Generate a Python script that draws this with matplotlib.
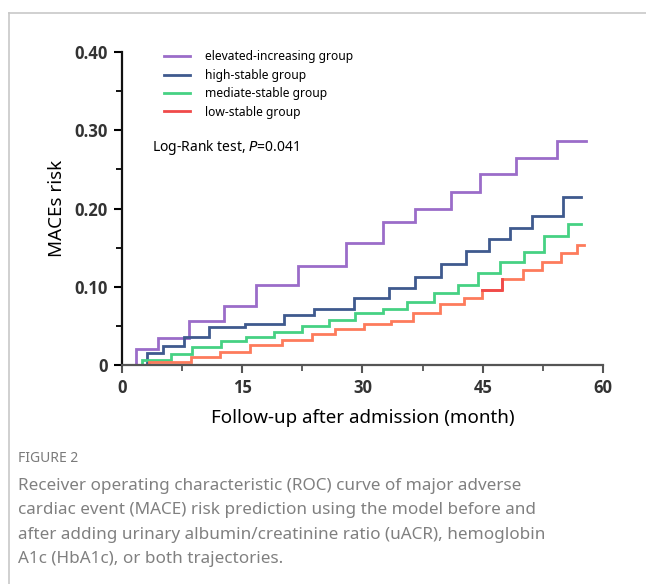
import matplotlib.pyplot as plt
from matplotlib.lines import Line2D

# step times (month) and cumulative risk after each step, last time = end of curve
elev_t = [0, 1.75, 4.5, 8.3, 12.7, 16.7, 22.0, 27.9, 32.5, 36.6, 41.0, 44.7, 49.2, 54.3, 57.9]
elev_v = [0, 0.020, 0.034, 0.056, 0.075, 0.102, 0.127, 0.156, 0.183, 0.200, 0.221, 0.244, 0.265, 0.286]

high_t = [0, 3.1, 5.15, 7.7, 10.9, 15.3, 20.2, 23.9, 28.9, 33.3, 36.6, 39.8, 42.9, 45.8, 48.4, 51.2, 55.0, 57.3]
high_v = [0, 0.015, 0.024, 0.036, 0.048, 0.053, 0.064, 0.072, 0.085, 0.099, 0.113, 0.129, 0.146, 0.161,
          0.175, 0.191, 0.215]

med_t = [0, 2.5, 6.1, 8.7, 12.4, 15.5, 19.0, 22.5, 25.8, 29.1, 32.5, 35.6, 38.9, 41.9, 44.4, 47.2, 50.2,
         52.7, 55.6, 57.3]
med_v = [0, 0.007, 0.014, 0.023, 0.031, 0.036, 0.042, 0.050, 0.058, 0.067, 0.071, 0.080, 0.092, 0.102,
         0.118, 0.131, 0.145, 0.165, 0.180]

low_t = [0, 3.4, 8.6, 12.2, 16.0, 20.0, 23.7, 26.6, 30.2, 33.5, 36.3, 39.7, 42.6, 44.9, 47.4, 50.0, 52.4,
         54.7, 56.7, 57.6]
low_v = [0, 0.004, 0.010, 0.017, 0.025, 0.032, 0.039, 0.046, 0.052, 0.056, 0.066, 0.078, 0.085, 0.096,
         0.110, 0.121, 0.131, 0.143, 0.153]

groups = ["elevated-increasing group", "high-stable group", "mediate-stable group", "low-stable group"]
colors = ["#9b6cc9", "#3f5a8e", "#46d183", "#fd7b5c"]
legend_colors = ["#9b6cc9", "#3f5a8e", "#46d183", "#f04a4a"]

x_ticks = [0, 15, 30, 45, 60]
x_labels = ["0", "15", "30", "45", "60"]
y_ticks = [0, 0.10, 0.20, 0.30, 0.40]
y_labels = ["0", "0.10", "0.20", "0.30", "0.40"]

caption = ("Receiver operating characteristic (ROC) curve of major adverse\n"
           "cardiac event (MACE) risk prediction using the model before and\n"
           "after adding urinary albumin/creatinine ratio (uACR), hemoglobin\n"
           "A1c (HbA1c), or both trajectories.")

plt.rcParams['font.family'] = ['Noto Sans', 'DejaVu Sans']

fig = plt.figure(figsize=(6.46, 5.84), dpi=100)
ax = fig.add_axes([122 / 646, 1 - 365 / 584, 481 / 646, 313 / 584])

series = [(elev_t, elev_v), (high_t, high_v), (med_t, med_v), (low_t, low_v)]
for (t, v), c in zip(series, colors):
    ax.step(t, v + [v[-1]], where='post', color=c, lw=2.0, solid_joinstyle='miter')

# small saturated red piece on the low-stable curve
i = low_t.index(44.9)
ax.step(low_t[i:i + 2], low_v[i:i + 2], where='post', color="#f04a4a", lw=2.0)

ax.set_xlim(0, 60)
ax.set_ylim(0, 0.40)
tick_font = dict(family=['Open Sans', 'DejaVu Sans'], weight='bold', size=12)
ax.set_xticks(x_ticks, labels=x_labels, fontdict=tick_font)
ax.set_yticks(y_ticks, labels=y_labels, fontdict=tick_font)
ax.set_xticks([7.5, 22.5, 37.5, 52.5], minor=True)
ax.set_yticks([0.05, 0.15, 0.25, 0.35], minor=True)

for s in ["top", "right"]:
    ax.spines[s].set_visible(False)
ax.spines["left"].set_linewidth(1.6)
ax.spines["left"].set_color("#111111")
ax.spines["bottom"].set_linewidth(1.6)
ax.spines["bottom"].set_color("#555555")
ax.tick_params(which='major', length=6, width=1.5, pad=4)
ax.tick_params(which='minor', length=4, width=1.3)
ax.tick_params(axis='x', which='both', colors="#555555", labelcolor="#333333")
ax.tick_params(axis='y', labelcolor="#333333")

ax.set_ylabel("MACEs risk", fontsize=13.5, labelpad=6)
ax.set_xlabel("Follow-up after admission (month)", fontsize=13.5, labelpad=9)

handles = [Line2D([0], [0], color=c, lw=2.0) for c in legend_colors]
ax.legend(handles, groups, loc='upper left', bbox_to_anchor=(0.065, 1.04), frameon=False,
          fontsize=8.7, handlelength=2.1, handletextpad=1.3, labelspacing=0.45)

ax.text(0.063, 0.695, r"Log-Rank test, $\it{P}$=0.041", transform=ax.transAxes, fontsize=10,
        va='center')

# page frame and caption
fig.add_artist(Line2D([9 / 646, 1], [1 - 13 / 584] * 2, color="#c8c8c8", lw=1.2))
fig.add_artist(Line2D([9 / 646] * 2, [0, 1 - 13 / 584], color="#c8c8c8", lw=1.2))
fig.text(18 / 646, 1 - 459 / 584, "FIGURE 2", fontsize=10, color="#7a7a7a", va='center')
fig.text(18 / 646, 1 - 478 / 584, caption, fontsize=12.3, color="#808080", va='top',
         linespacing=1.7)

fig.savefig("out.png", dpi=100)
